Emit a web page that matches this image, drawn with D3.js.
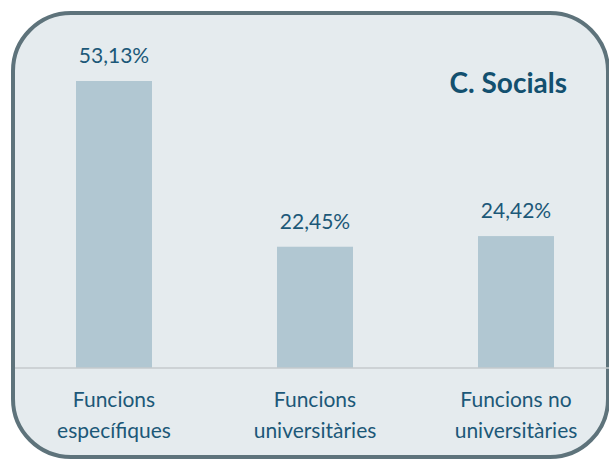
<!DOCTYPE html>
<html>
<head>
<meta charset="utf-8">
<script src="https://cdn.jsdelivr.net/npm/d3@7"></script>
<style>
  body { margin: 0; background: #ffffff; }
  svg { display: block; }
</style>
</head>
<body>
<svg id="chart" width="609" height="462"></svg>
<script>
// data
var categories = ["Funcions específiques", "Funcions universitàries", "Funcions no universitàries"];
var labelLines = [["Funcions", "específiques"], ["Funcions", "universitàries"], ["Funcions no", "universitàries"]];
var values = [53.13, 22.45, 24.42];
var valueLabels = ["53,13%", "22,45%", "24,42%"];
var title = "C. Socials";

var svg = d3.select("#chart");
var fontFamily = "Lato, 'Open Sans', sans-serif";
var textColor = "#1c5878";

// frame
svg.append("rect")
  .attr("x", 13).attr("y", 13)
  .attr("width", 595).attr("height", 444)
  .attr("rx", 58).attr("ry", 58)
  .attr("fill", "#e5ebee")
  .attr("stroke", "#5e737b")
  .attr("stroke-width", 4);

var baseline = 368;

var x = d3.scaleBand()
  .domain(categories)
  .range([13.5, 616.5])
  .paddingInner(0.622)
  .paddingOuter(0.311);

var y = d3.scaleLinear()
  .domain([0, 60])
  .range([baseline, baseline - 60 * 5.402]);

// bars
svg.selectAll(".bar")
  .data(values)
  .enter().append("rect")
  .attr("class", "bar")
  .attr("x", function(d, i) { return x(categories[i]); })
  .attr("y", function(d) { return y(d); })
  .attr("width", x.bandwidth())
  .attr("height", function(d) { return y(0) - y(d); })
  .attr("fill", "#b1c7d2");

// axis line
svg.append("line")
  .attr("x1", 15).attr("x2", 609)
  .attr("y1", y(0)).attr("y2", y(0))
  .attr("stroke", "#c5cacc")
  .attr("stroke-width", 1.5);

// value labels
svg.selectAll(".val")
  .data(values)
  .enter().append("text")
  .attr("class", "val")
  .attr("x", function(d, i) { return x(categories[i]) + x.bandwidth() / 2; })
  .attr("y", function(d) { return y(d) - 18; })
  .attr("text-anchor", "middle")
  .attr("font-family", fontFamily)
  .attr("font-size", 21)
  .attr("fill", textColor)
  .text(function(d, i) { return valueLabels[i]; });

// category labels
var cat = svg.selectAll(".cat")
  .data(categories)
  .enter().append("text")
  .attr("class", "cat")
  .attr("text-anchor", "middle")
  .attr("font-family", fontFamily)
  .attr("font-size", 21)
  .attr("fill", textColor);

cat.selectAll("tspan")
  .data(function(d, i) { return labelLines[i].map(function(l) { return { t: l, c: d }; }); })
  .enter().append("tspan")
  .attr("x", function(d) { return x(d.c) + x.bandwidth() / 2; })
  .attr("y", function(d, j) { return 407 + j * 30.5; })
  .text(function(d) { return d.t; });

// title
svg.append("text")
  .attr("x", 567).attr("y", 93)
  .attr("text-anchor", "end")
  .attr("font-family", fontFamily)
  .attr("font-size", 28)
  .attr("font-weight", "bold")
  .attr("fill", "#13506f")
  .text(title);
</script>
</body>
</html>
